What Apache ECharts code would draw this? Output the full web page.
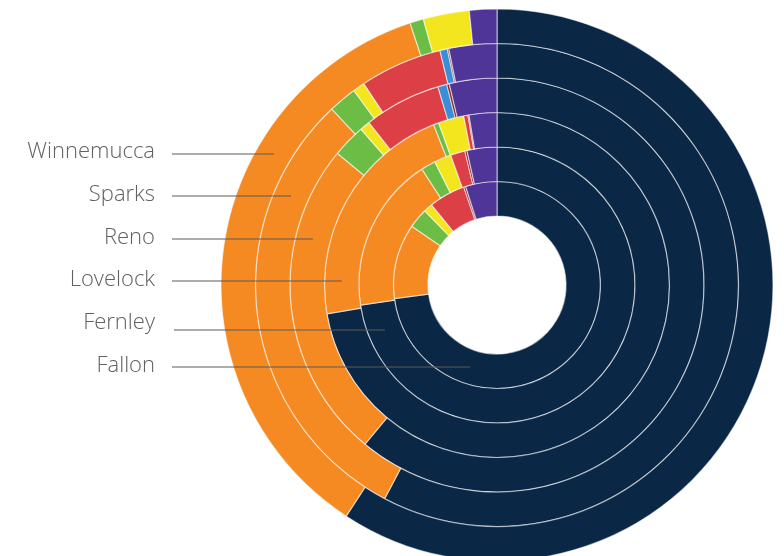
<!DOCTYPE html>
<html>
<head>
  <meta charset="utf-8">
</head>
<body style="margin: 0; width: 784px; height: 556px; background: #fff;">
  <div id="container" style="width: 784px; height: 556px;"></div>
  <script src="https://cdn.jsdelivr.net/npm/echarts@6/dist/echarts.min.js"></script>
  <script>
    // towns, inner ring -> outer ring
    var towns = ['Fallon', 'Fernley', 'Lovelock', 'Reno', 'Sparks', 'Winnemucca'];
    // shares (%) clockwise from 12 o'clock, one entry per group
    var groups = ['Group 1', 'Group 2', 'Group 3', 'Group 4', 'Group 5', 'Group 6', 'Group 7', 'Group 8'];
    var colors = ['#0a2746', '#f68a22', '#6cbd45', '#f3e61e', '#dc3f45', '#3a8ed8', '#8e1f22', '#4f3597'];

    var fallon     = [72.9, 11.7, 3.1, 1.4, 5.7, 0,   0.3, 4.9];
    var fernley    = [72.7, 18.2, 1.7, 2.0, 1.7, 0,   0.25, 3.5];
    var lovelock   = [72.4, 21.7, 0.5, 2.4, 0.4, 0,   0.1, 2.6];
    var reno       = [60.9, 24.9, 2.6, 0.8, 6.0, 0.7, 0.2, 3.7];
    var sparks     = [57.7, 30.3, 1.9, 0.8, 5.5, 0.5, 0.1, 3.2];
    var winnemucca = [59.2, 35.7, 0.8, 2.7, 0,   0,   0,   1.6];
    var values = [fallon, fernley, lovelock, reno, sparks, winnemucca];

    var cx = 497, cy = 285;
    var hole = 69, ringW = 34.5;

    var myChart = echarts.init(document.getElementById('container'), null, { renderer: 'canvas' });

    var series = towns.map(function (town, i) {
      return {
        name: town,
        type: 'pie',
        center: [cx, cy],
        radius: [hole + ringW * i, hole + ringW * (i + 1)],
        startAngle: 90,
        clockwise: true,
        silent: true,
        label: { show: false },
        labelLine: { show: false },
        itemStyle: {
          borderColor: 'rgba(255,255,255,0.55)',
          borderWidth: 1.2
        },
        data: values[i].map(function (v, j) {
          return {
            name: groups[j],
            value: v === 0 ? '-' : v,
            itemStyle: { color: colors[j] }
          };
        })
      };
    });

    // ring labels on the left with leader lines to the middle of each ring
    var labelY = [366, 323, 280, 238, 195, 152];
    var lineY = [367, 330, 281, 239, 196, 154];
    var graphics = [];
    towns.forEach(function (town, i) {
      var rm = hole + ringW * (i + 0.5);
      var dy = lineY[i] - cy;
      var xEnd = cx - Math.sqrt(rm * rm - dy * dy);
      graphics.push({
        type: 'text',
        x: 155,
        y: labelY[i],
        style: {
          text: town,
          align: 'right',
          verticalAlign: 'middle',
          fill: '#606060',
          font: '300 22px "Open Sans", Lato, sans-serif'
        }
      });
      graphics.push({
        type: 'line',
        shape: { x1: i === 1 ? 174 : 172, y1: lineY[i], x2: xEnd, y2: lineY[i] },
        style: { stroke: '#5a5a5a', lineWidth: 1 },
        z: 100
      });
    });

    var option = {
      animation: false,
      backgroundColor: '#fff',
      series: series,
      graphic: graphics
    };

    myChart.setOption(option);
  </script>
</body>
</html>
